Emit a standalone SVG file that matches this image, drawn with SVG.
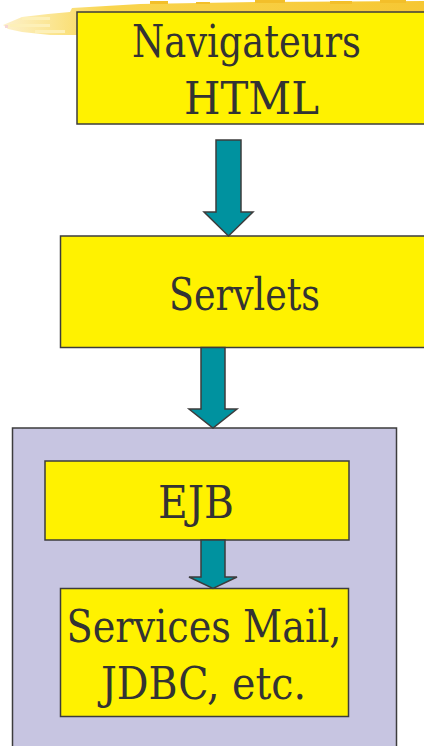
<svg xmlns="http://www.w3.org/2000/svg" width="424" height="746" viewBox="0 0 424 746">
  <defs>
    <linearGradient id="brush" x1="0" y1="0" x2="1" y2="0">
      <stop offset="0" stop-color="#fdf1cc"/>
      <stop offset="0.12" stop-color="#fbe590"/>
      <stop offset="0.25" stop-color="#f9d54e"/>
      <stop offset="1" stop-color="#f6c733"/>
    </linearGradient>
    <style>
      .box { fill: #fff200; stroke: #3c3c3c; stroke-width: 1.5; }
      .frame { fill: #c7c5e1; stroke: #3c3c3c; stroke-width: 1.5; }
      .arrow { fill: #00929f; stroke: #3c3c3c; stroke-width: 1.5; stroke-linejoin: miter; }
      .label { font-family: 'DejaVu Serif Condensed', 'DejaVu Serif', 'Liberation Serif', serif; font-size: 44px; fill: #333333; text-anchor: middle; }
      .streak { fill: #f3bf2a; }
      .pale { fill: #fdf0b8; }
    </style>
  </defs>

  <rect width="424" height="746" fill="#ffffff"/>

  <!-- brush-stroke accent behind the title box -->
  <g id="brush-accent">
    <path d="M3,25 L22,17 L48,14 L70,12 L72,8 L140,4 L260,2 L424,1 L424,12 L77,13 L77,35 L50,35 L22,32 L8,29 Z" fill="url(#brush)"/>
    <rect class="streak" x="150" y="1" width="18" height="3"/>
    <rect class="streak" x="196" y="2" width="14" height="2"/>
    <rect class="streak" x="255" y="0" width="30" height="3"/>
    <rect class="streak" x="330" y="1" width="22" height="3"/>
    <rect class="streak" x="380" y="0" width="26" height="3"/>
    <rect class="pale" x="22" y="17" width="28" height="3"/>
    <rect class="pale" x="10" y="24" width="40" height="3"/>
    <rect class="pale" x="35" y="30" width="30" height="3"/>
    <rect x="5" y="25" width="3" height="3" fill="#f5d6d6"/>
  </g>

  <!-- outer container -->
  <g id="conteneur">
    <rect class="frame" x="12.5" y="428" width="384" height="330"/>
  </g>

  <g id="navigateurs">
    <rect class="box" x="77" y="12" width="360" height="112"/>
    <text class="label" x="246.5" y="56.5" textLength="229" lengthAdjust="spacingAndGlyphs">Navigateurs</text>
    <text class="label" x="251.5" y="114" textLength="135" lengthAdjust="spacingAndGlyphs">HTML</text>
  </g>

  <g id="servlets">
    <rect class="box" x="60.5" y="236" width="380" height="111.5"/>
    <text class="label" x="244.5" y="310" textLength="151" lengthAdjust="spacingAndGlyphs">Servlets</text>
  </g>

  <g id="ejb">
    <rect class="box" x="45" y="461" width="304" height="79"/>
    <text class="label" x="196" y="517.5" textLength="76" lengthAdjust="spacingAndGlyphs">EJB</text>
  </g>

  <g id="services">
    <rect class="box" x="60.5" y="588.5" width="288" height="128"/>
    <text class="label" x="204" y="641.5" textLength="275" lengthAdjust="spacingAndGlyphs">Services Mail,</text>
    <text class="label" x="203.5" y="699" textLength="205" lengthAdjust="spacingAndGlyphs">JDBC, etc.</text>
  </g>

  <!-- block arrows between layers -->
  <g id="connecteurs">
    <polygon class="arrow" points="216,140 241,140 241,212 253,212 228.5,236 204,212 216,212"/>
    <polygon class="arrow" points="201,347.5 225,347.5 225,409 237,409 213,428 189,409 201,409"/>
    <polygon class="arrow" points="201,540 225,540 225,577 237,577 213,588.5 189,577 201,577"/>
  </g>
</svg>
